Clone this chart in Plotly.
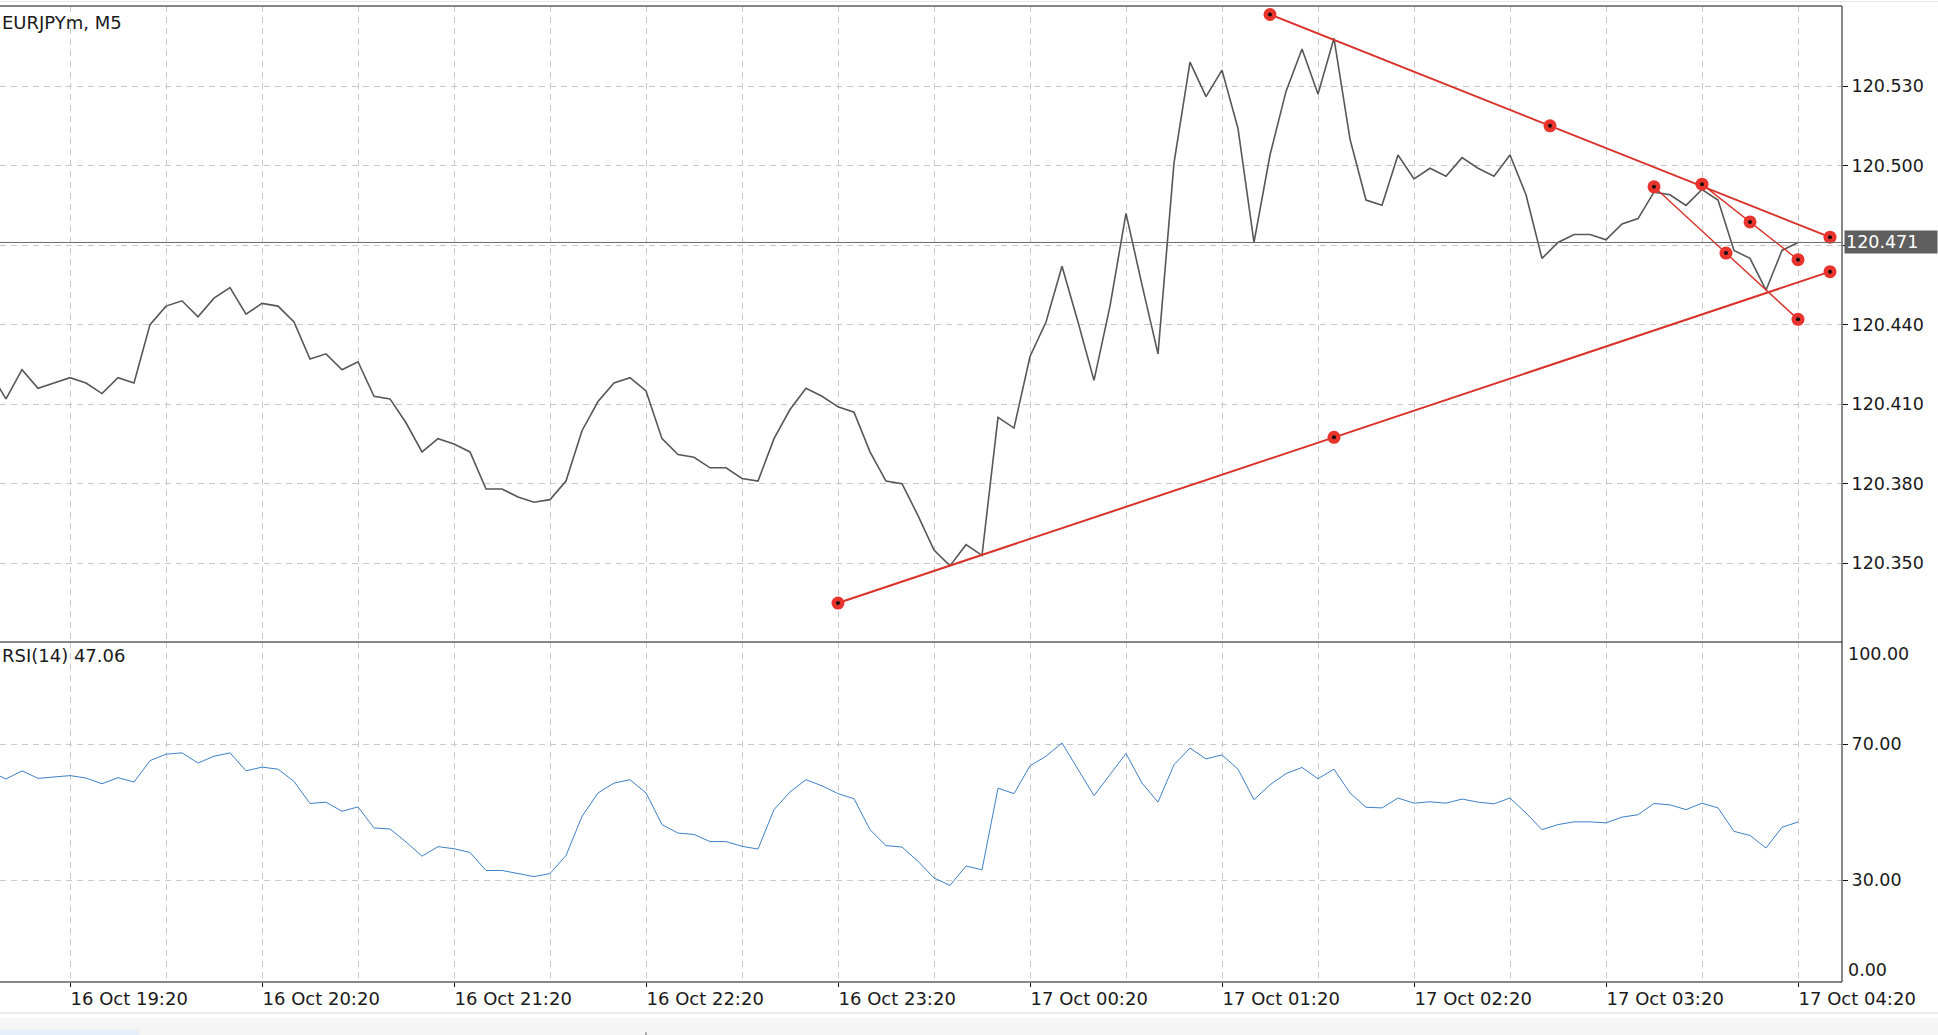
import pandas as pd
import plotly.graph_objects as go

# EURJPYm M5 closes, one per 5-minute bar starting 16 Oct 18:55
price_close = [
    120.422, 120.412, 120.423, 120.416, 120.418, 120.420, 120.418, 120.414,
    120.420, 120.418, 120.440, 120.447, 120.449, 120.443, 120.450, 120.454,
    120.444, 120.448, 120.447, 120.441, 120.427, 120.429, 120.423, 120.426,
    120.413, 120.412, 120.403, 120.392, 120.397, 120.395, 120.392, 120.378,
    120.378, 120.375, 120.373, 120.374, 120.381, 120.400, 120.411, 120.418,
    120.420, 120.415, 120.397, 120.391, 120.390, 120.386, 120.386, 120.382,
    120.381, 120.397, 120.408, 120.416, 120.413, 120.409, 120.407, 120.392,
    120.381, 120.380, 120.368, 120.355, 120.349, 120.357, 120.353, 120.405,
    120.401, 120.428, 120.441, 120.462, 120.441, 120.419, 120.447, 120.482,
    120.455, 120.429, 120.501, 120.539, 120.526, 120.536, 120.514, 120.471,
    120.504, 120.528, 120.544, 120.527, 120.548, 120.510, 120.487, 120.485,
    120.504, 120.495, 120.499, 120.496, 120.503, 120.499, 120.496, 120.504,
    120.489, 120.465, 120.471, 120.474, 120.474, 120.472, 120.478, 120.480,
    120.490, 120.489, 120.485, 120.491, 120.487, 120.468, 120.465, 120.453,
    120.468, 120.471,
]

rsi_values = [
    62.0, 59.7, 62.1, 59.9, 60.3, 60.7, 60.0, 58.3, 60.1, 58.8, 65.1, 67.0,
    67.4, 64.4, 66.4, 67.4, 62.1, 63.2, 62.6, 59.0, 52.5, 52.9, 50.2, 51.5,
    45.3, 45.0, 41.2, 37.0, 39.8, 39.2, 38.1, 32.8, 32.8, 31.8, 31.0, 31.9,
    37.2, 48.7, 55.6, 58.5, 59.5, 55.6, 46.3, 43.8, 43.4, 41.3, 41.3, 39.9,
    39.1, 50.7, 55.9, 59.5, 57.7, 55.4, 53.9, 44.8, 40.1, 39.7, 35.5, 30.6,
    28.4, 34.1, 33.0, 57.0, 55.4, 63.6, 66.4, 70.3, 62.5, 54.8, 61.0, 67.2,
    58.5, 52.9, 63.9, 68.8, 65.6, 66.8, 62.6, 53.6, 58.0, 61.3, 63.1, 59.8,
    62.6, 55.6, 51.4, 51.2, 54.1, 52.6, 53.0, 52.6, 53.8, 52.9, 52.4, 54.1,
    49.7, 44.8, 46.3, 47.1, 47.1, 46.8, 48.5, 49.2, 52.5, 52.1, 50.7, 52.6,
    51.2, 44.3, 43.1, 39.4, 45.5, 47.06,
]

bar_times = pd.date_range("2019-10-16 18:55", periods=len(price_close), freq="5min")

# hourly ticks and half-hour grid
tick_times = pd.date_range("2019-10-16 19:20", "2019-10-17 04:20", freq="60min")
tick_labels = [
    "16 Oct 19:20", "16 Oct 20:20", "16 Oct 21:20", "16 Oct 22:20", "16 Oct 23:20",
    "17 Oct 00:20", "17 Oct 01:20", "17 Oct 02:20", "17 Oct 03:20", "17 Oct 04:20",
]
half_hour_times = pd.date_range("2019-10-16 19:50", "2019-10-17 03:50", freq="60min")

price_ticks = [120.350, 120.380, 120.410, 120.440, 120.470, 120.500, 120.530]
price_tick_labels = ["120.350", "120.380", "120.410", "120.440", "", "120.500", "120.530"]
current_price = 120.471

# drawn trend lines (start / end)
trend_start_time = ["2019-10-17 01:35", "2019-10-16 23:20", "2019-10-17 03:50", "2019-10-17 03:35"]
trend_end_time = ["2019-10-17 04:30", "2019-10-17 04:30", "2019-10-17 04:20", "2019-10-17 04:20"]
trend_start_price = [120.557, 120.335, 120.493, 120.492]
trend_end_price = [120.473, 120.460, 120.4645, 120.442]
trend_widths = [2, 2, 1.4, 1.4]

X_RANGE = ["2019-10-16 18:58:07.5", "2019-10-17 04:33:45"]
PRICE_RANGE = [120.3203, 120.5602]
SPLIT = 340 / 976

RED = "#d9322b"
GRID = "#c9c9c9"
INK = "#1a1a1a"
FONT = "DejaVu Sans, Liberation Sans, sans-serif"

fig = go.Figure()

fig.add_trace(go.Scatter(
    x=bar_times, y=price_close, mode="lines",
    line={"color": "#575757", "width": 1.6},
    xaxis="x", yaxis="y", showlegend=False,
))

fig.add_trace(go.Scatter(
    x=bar_times, y=rsi_values, mode="lines",
    line={"color": "#3f80c6", "width": 1},
    xaxis="x2", yaxis="y2", showlegend=False,
))

handle_x, handle_y = [], []
for t0, t1, p0, p1, w in zip(trend_start_time, trend_end_time,
                             trend_start_price, trend_end_price, trend_widths):
    a, b = pd.Timestamp(t0), pd.Timestamp(t1)
    mid = a + (b - a) / 2
    fig.add_trace(go.Scatter(
        x=[a, b], y=[p0, p1], mode="lines",
        line={"color": RED, "width": w},
        xaxis="x", yaxis="y", showlegend=False,
    ))
    handle_x += [a, mid, b]
    handle_y += [p0, (p0 + p1) / 2, p1]

fig.add_trace(go.Scatter(
    x=handle_x, y=handle_y, mode="markers",
    marker={"color": "#e8342c", "size": 13, "line": {"width": 0}},
    xaxis="x", yaxis="y", showlegend=False,
))
fig.add_trace(go.Scatter(
    x=handle_x, y=handle_y, mode="markers",
    marker={"color": "#111111", "size": 4},
    xaxis="x", yaxis="y", showlegend=False,
))

grid_common = dict(
    showgrid=True, gridcolor=GRID, griddash="6px,5px", gridwidth=1,
    zeroline=False, showline=False,
)
y_tickfont = {"family": FONT, "size": 17.5, "color": INK}

fig.update_layout(
    width=1938, height=1035,
    margin={"l": 0, "r": 96, "t": 6, "b": 53},
    paper_bgcolor="white", plot_bgcolor="white",
    font={"family": FONT, "size": 18, "color": INK},
    xaxis=dict(
        domain=[0, 1], anchor="y", range=X_RANGE, type="date",
        tickvals=tick_times, ticktext=[""] * len(tick_times), ticks="",
        minor=dict(tickvals=half_hour_times, showgrid=True, gridcolor=GRID,
                   griddash="6px,5px", ticks=""),
        automargin=False, **grid_common,
    ),
    xaxis2=dict(
        domain=[0, 1], anchor="y2", range=X_RANGE, type="date", matches="x",
        tickvals=tick_times, ticktext=tick_labels,
        ticks="outside", ticklen=4, tickcolor="#111111",
        ticklabelposition="outside right", ticklabeloverflow="allow",
        tickfont={"family": FONT, "size": 18, "color": INK},
        minor=dict(tickvals=half_hour_times, showgrid=True, gridcolor=GRID,
                   griddash="6px,5px", ticks=""),
        automargin=False, **grid_common,
    ),
    yaxis=dict(
        domain=[SPLIT, 1], anchor="x", side="right", range=PRICE_RANGE,
        tickvals=price_ticks, ticktext=price_tick_labels,
        ticks="outside", ticklen=5, tickcolor="#111111", tickfont=y_tickfont,
        automargin=False, **grid_common,
    ),
    yaxis2=dict(
        domain=[0, SPLIT], anchor="x2", side="right", range=[0, 100],
        tickvals=[30, 70], ticktext=["30.00", "70.00"],
        ticks="outside", ticklen=5, tickcolor="#111111", tickfont=y_tickfont,
        automargin=False, **grid_common,
    ),
)

# panel frames
frame = {"color": "#111111", "width": 1}
for yy in (1, SPLIT, 0):
    fig.add_shape(type="line", xref="paper", yref="paper",
                  x0=0, x1=1, y0=yy, y1=yy, line=frame)
fig.add_shape(type="line", xref="paper", yref="paper",
              x0=1, x1=1, y0=0, y1=1, line=frame)

# current price line
fig.add_shape(type="line", xref="paper", yref="y", x0=0, x1=1,
              y0=current_price, y1=current_price,
              line={"color": "#6a6a6a", "width": 1})

# thin top rule and bottom toolbar strip
fig.add_shape(type="line", xref="paper", yref="paper", x0=0, x1=1.06,
              y0=1.0045, y1=1.0045, line={"color": "#e6e6e6", "width": 1})
fig.add_shape(type="line", xref="paper", yref="paper", x0=0, x1=1.06,
              y0=-0.0318, y1=-0.0318, line={"color": "#e4e4e4", "width": 1.5})
fig.add_shape(type="rect", xref="paper", yref="paper", x0=0, x1=1.06,
              y0=-0.060, y1=-0.0372, fillcolor="#f5f5f5",
              line={"width": 0}, layer="below")
fig.add_shape(type="rect", xref="paper", yref="paper", x0=0, x1=0.0755,
              y0=-0.060, y1=-0.0490, fillcolor="#e6eef9",
              line={"width": 0}, layer="below")
fig.add_shape(type="line", xref="paper", yref="paper", x0=0.3507, x1=0.3507,
              y0=-0.060, y1=-0.0515, line={"color": "#888888", "width": 1.5})

fig.add_annotation(text=f"{current_price:.3f}", xref="paper", yref="y",
                   x=1, y=current_price, xanchor="left", yanchor="middle",
                   xshift=2, showarrow=False, bgcolor="#5f5f5f",
                   font={"family": FONT, "color": "white", "size": 17.5},
                   borderpad=1, width=90, align="left")

fig.add_annotation(text="EURJPYm, M5", xref="paper", yref="paper",
                   x=0, y=1, xanchor="left", yanchor="top", xshift=0, yshift=-4,
                   showarrow=False, font={"family": FONT, "size": 18, "color": INK})
fig.add_annotation(text=f"RSI(14) {rsi_values[-1]:.2f}", xref="paper", yref="paper",
                   x=0, y=SPLIT, xanchor="left", yanchor="top", xshift=0, yshift=-1,
                   showarrow=False, font={"family": FONT, "size": 18, "color": INK})

fig.add_annotation(text="100.00", xref="paper", yref="y2", x=1, y=100,
                   xanchor="left", yanchor="top", xshift=4, showarrow=False,
                   font=y_tickfont)
fig.add_annotation(text="0.00", xref="paper", yref="y2", x=1, y=0,
                   xanchor="left", yanchor="bottom", xshift=4, showarrow=False,
                   font=y_tickfont)

# the page body carries a default 8px margin; drop it so the chart sits at 0,0
fig.write_html("out.html", config={"displayModeBar": False},
               post_script="document.body.style.margin='0';")
